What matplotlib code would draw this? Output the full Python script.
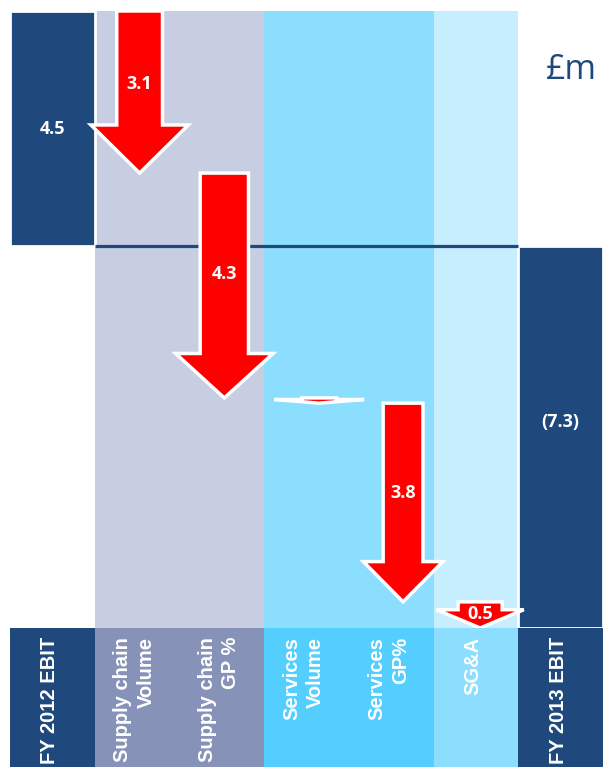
import matplotlib.pyplot as plt
from matplotlib.patches import FancyArrow

# EBIT bridge, FY 2012 -> FY 2013 (GBP m)
categories = ["FY 2012 EBIT", "Supply chain\nVolume", "Supply chain\nGP %",
              "Services\nVolume", "Services\nGP%", "SG&A", "FY 2013 EBIT"]
start_ebit = 4.5
end_ebit = -7.3
changes = [-3.1, -4.3, -0.1, -3.8, -0.5]
change_labels = ["3.1", "4.3", "", "3.8", "0.5"]

NAVY = "#1F497D"
RED = "#FF0000"

# arrow shapes per step (x in column units, y in GBP m)
shaft_w = [0.54, 0.57, 0.41, 0.47, 0.52]
head_w = [1.15, 1.15, 1.06, 0.94, 1.03]
head_len = [0.92, 0.85, 0.17, 0.77, 0.35]
x_shift = [0.03, 0.03, 0.15, 0.14, 0.05]

W, H = 603, 767
fig = plt.figure(figsize=(W / 100, H / 100), dpi=100)
band_top = 628
ax = fig.add_axes([10 / W, (H - band_top) / H, (W - 10) / W, (band_top - 11) / H])
lab = fig.add_axes([10 / W, 0, (W - 10) / W, (H - band_top) / H])

n = len(categories)
for a in (ax, lab):
    a.set_xlim(-0.5, n - 0.5)
    a.axis("off")
ax.set_ylim(end_ebit, start_ebit)
lab.set_ylim(0, 1)

# column backgrounds
ax.axvspan(0.5, 2.5, color="#C8CEE1", zorder=0, lw=0)
ax.axvspan(2.5, 4.5, color="#8CDEFE", zorder=0, lw=0)
ax.axvspan(4.5, 5.5, color="#C6EEFE", zorder=0, lw=0)

band_colors = [NAVY, "#8792B9", "#8792B9", "#53CEFE", "#53CEFE", "#8CDEFE", NAVY]
lab.bar(range(n), [1] * n, width=1.0, bottom=0, color=band_colors, lw=0)

# start / end totals
ax.bar([0, n - 1], [start_ebit, end_ebit], width=1.0, color=NAVY,
       edgecolor="white", lw=2, zorder=2)
ax.hlines(0, 0.5, 5.5, color=NAVY, lw=2.3, zorder=3)

txt = dict(color="white", fontweight="bold", fontsize=13,
           family=["Open Sans", "DejaVu Sans"], ha="center", va="center", zorder=6)
ax.text(0, start_ebit / 2, f"{start_ebit:.1f}", **txt)
ax.text(n - 1, end_ebit * 0.46, f"({-end_ebit:.1f})", **txt)

level = start_ebit
for i, d in enumerate(changes):
    x = i + 1 + x_shift[i]
    length = abs(d)
    hl = min(head_len[i], 0.7 * length)
    arr = FancyArrow(x, level, 0, d, width=shaft_w[i], head_width=head_w[i],
                     head_length=hl, length_includes_head=True,
                     facecolor=RED, edgecolor="white", lw=2.5, zorder=4,
                     clip_on=False)
    ax.add_patch(arr)
    if change_labels[i]:
        ax.text(x, level + d * 0.45, change_labels[i], **txt)
    level += d

for i, c in enumerate(categories):
    lab.text(i - 0.03, 0.935, c, rotation=90, ha="center", va="top",
             multialignment="right", color="white", fontweight="bold",
             fontsize=14.5, family=["Liberation Sans", "DejaVu Sans"],
             linespacing=1.3)

fig.text(571 / W, 1 - 70 / H, "£m", color=NAVY, fontsize=24.5,
         family=["Open Sans", "DejaVu Sans"], ha="center", va="center")

fig.savefig("out.png", dpi=100)
